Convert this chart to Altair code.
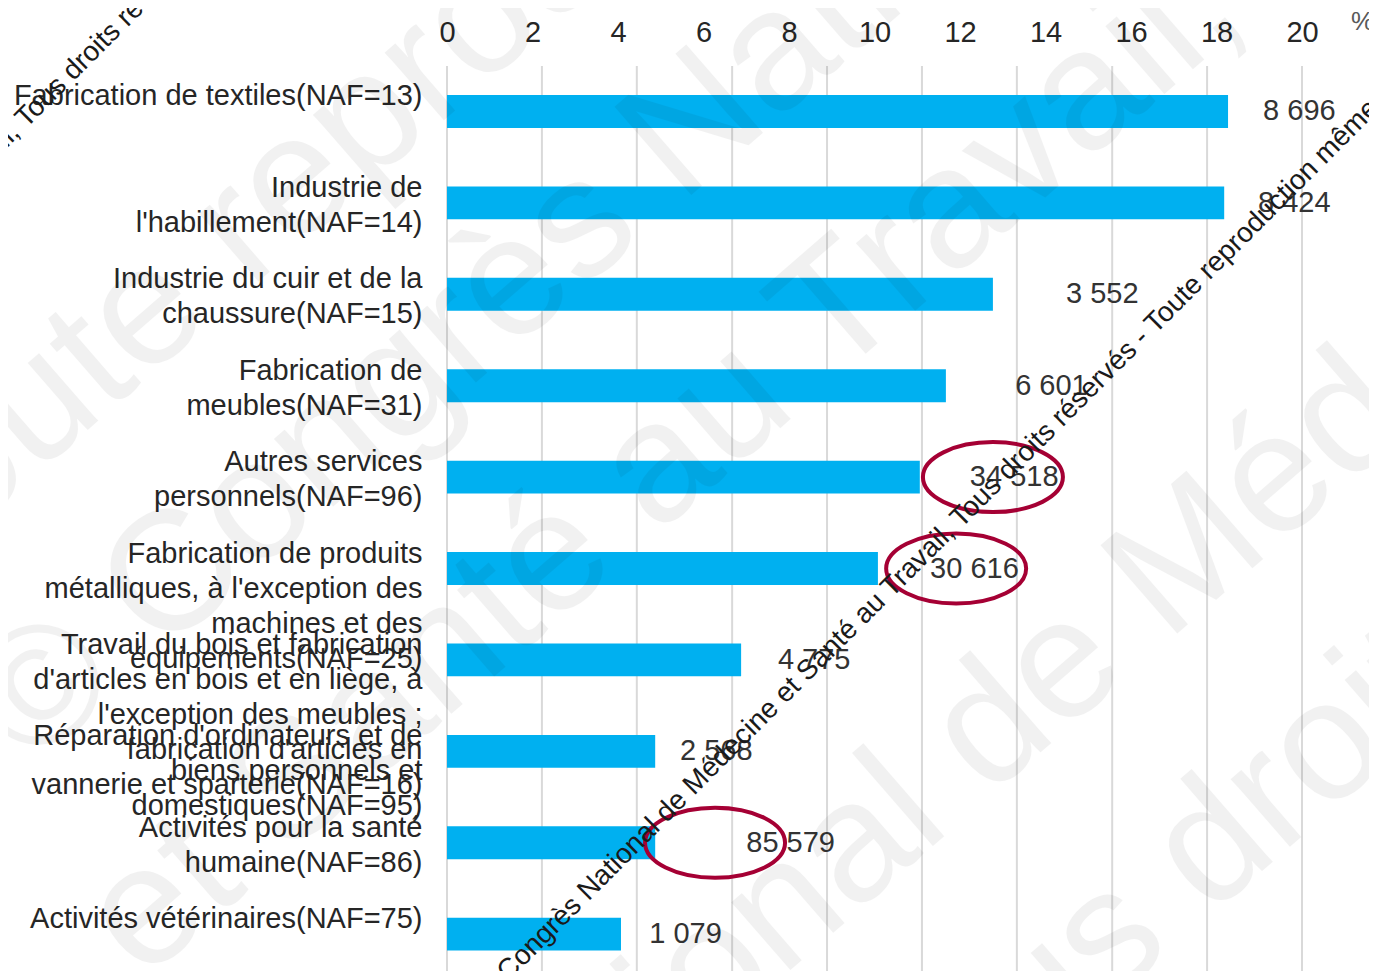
import altair as alt
import pandas as pd

# ---------------- data ----------------
categories = [
    "Fabrication de textiles(NAF=13)",
    "Industrie de|l'habillement(NAF=14)",
    "Industrie du cuir et de la|chaussure(NAF=15)",
    "Fabrication de|meubles(NAF=31)",
    "Autres services|personnels(NAF=96)",
    "Fabrication de produits|métalliques, à l'exception des|machines et des|équipements(NAF=25)",
    "Travail du bois et fabrication|d'articles en bois et en liège, à|l'exception des meubles ;|fabrication d'articles en|vannerie et sparterie(NAF=16)",
    "Réparation d'ordinateurs et de|biens personnels et|domestiques(NAF=95)",
    "Activités pour la santé|humaine(NAF=86)",
    "Activités vétérinaires(NAF=75)",
]
percent = [18.27, 18.18, 12.77, 11.67, 11.06, 10.08, 6.88, 4.87, 4.87, 4.07]
counts = ["8 696", "8 424", "3 552", "6 601", "34 518", "30 616", "4 775", "2 568", "85 579", "1 079"]
count_x = [19.09, 18.97, 14.48, 13.29, 12.23, 11.30, 7.74, 5.45, 7.00, 4.73]

circled = [categories[4], categories[5], categories[8]]
circle_x = [12.77, 11.91, 6.27]

tick_values = [0, 2, 4, 6, 8, 10, 12, 14, 16, 18, 20]
grid_values = [0, 2.22, 4.44, 6.67, 8.89, 11.11, 13.33, 15.56, 17.78, 20.0]

unit_label = "%"
notice = ("© Congrès National de Médecine et Santé au Travail, Tous droits réservés - "
          "Toute reproduction même partielle interdite")

df = pd.DataFrame({"cat": categories, "pct": percent, "n": counts, "nx": count_x})
circ = pd.DataFrame({"cat": circled, "cx": circle_x})
grid = pd.DataFrame({"g": grid_values})

FONT = "Liberation Sans"
OX, OY = 447, 66          # plot origin on the page
TOTAL_W, TOTAL_H = 1361, 963
W, H = TOTAL_W - (OX - 8), TOTAL_H - (OY - 8)

xscale = alt.Scale(domain=[0, W / 42.75], nice=False, zero=True)
yscale = alt.Scale(domain=categories, paddingInner=0.64, paddingOuter=0.27, align=0.587)

xaxis = alt.Axis(
    orient="top", values=tick_values, grid=False, ticks=False, tickSize=0,
    domain=False, labelFontSize=29, labelFont=FONT, labelColor="#262626",
    labelPadding=25, labelBaseline="alphabetic", labelFlush=False, title=None,
)
yaxis = alt.Axis(
    orient="left", ticks=False, tickSize=0, domain=False, grid=False,
    labelExpr="split(datum.label, '|')", labelFontSize=29, labelFont=FONT,
    labelColor="#262626", labelPadding=25, labelBaseline="top", labelOffset=-29,
    labelLineHeight=35, labelLimit=0, labelOverlap=False, labelBound=False,
    title=None,
)

gridlines = alt.Chart(grid).mark_rule(color="#d9d9d9", strokeWidth=2).encode(
    x=alt.X("g:Q", scale=xscale, axis=xaxis)
)

bars = alt.Chart(df).mark_bar(color="#00B0F0").encode(
    x=alt.X("pct:Q", scale=xscale, axis=xaxis),
    y=alt.Y("cat:N", scale=yscale, sort=categories, axis=yaxis),
)

labels = alt.Chart(df).mark_text(
    align="left", baseline="middle", fontSize=29, font=FONT, color="#333333"
).encode(
    x=alt.X("nx:Q", scale=xscale, axis=xaxis),
    y=alt.Y("cat:N", scale=yscale, sort=categories, axis=yaxis),
    text="n:N",
)

ellipse_path = "M -1 0 A 1 0.5 0 1 0 1 0 A 1 0.5 0 1 0 -1 0 Z"
ellipses = alt.Chart(circ).mark_point(
    shape=ellipse_path, size=19600, filled=False, stroke="#A50034",
    strokeWidth=4, opacity=1
).encode(
    x=alt.X("cx:Q", scale=xscale, axis=xaxis),
    y=alt.Y("cat:N", scale=yscale, sort=categories, axis=yaxis),
)

# faint large watermark lines (page coords of each line's start)
wm_lines = [
    ("Toute reproduction même partielle interdite", -100, 593),
    ("© Congrès National de Médecine et Santé", 30, 770),
    ("et Santé au Travail, Tous droits réservés", 143, 982),
    ("National de Médecine et Santé", 482, 1238),
    ("Tous droits réservés", 903, 1183),
]
wm_layers = []
for txt, px, py in wm_lines:
    wm_layers.append(
        alt.Chart(pd.DataFrame({"t": [txt]})).mark_text(
            align="left", baseline="alphabetic", fontSize=170, font=FONT,
            angle=319, color="#000000", opacity=0.05
        ).encode(text="t:N", x=alt.value(px - OX), y=alt.value(py - OY))
    )

small_notes = [(488, 1002), (-447, 602)]
note_layers = []
for px, py in small_notes:
    note_layers.append(
        alt.Chart(pd.DataFrame({"t": [notice]})).mark_text(
            align="left", baseline="alphabetic", fontSize=28, font=FONT,
            angle=315, color="#1a1a1a"
        ).encode(text="t:N", x=alt.value(px - OX), y=alt.value(py - OY))
    )

unit = alt.Chart(pd.DataFrame({"t": [unit_label]})).mark_text(
    align="left", baseline="alphabetic", fontSize=26, font=FONT, color="#595959"
).encode(text="t:N", x=alt.value(1351 - OX), y=alt.value(30 - OY))

chart = alt.layer(
    gridlines, bars, labels, ellipses, *wm_layers, *note_layers, unit
).properties(
    width=W, height=H,
    autosize=alt.AutoSizeParams(type="none"),
    padding={"left": OX - 8, "top": OY - 8, "right": 0, "bottom": 0},
    background="white",
).configure_view(strokeWidth=0)

chart.save("out.html", embed_options={"renderer": "svg", "actions": False})
